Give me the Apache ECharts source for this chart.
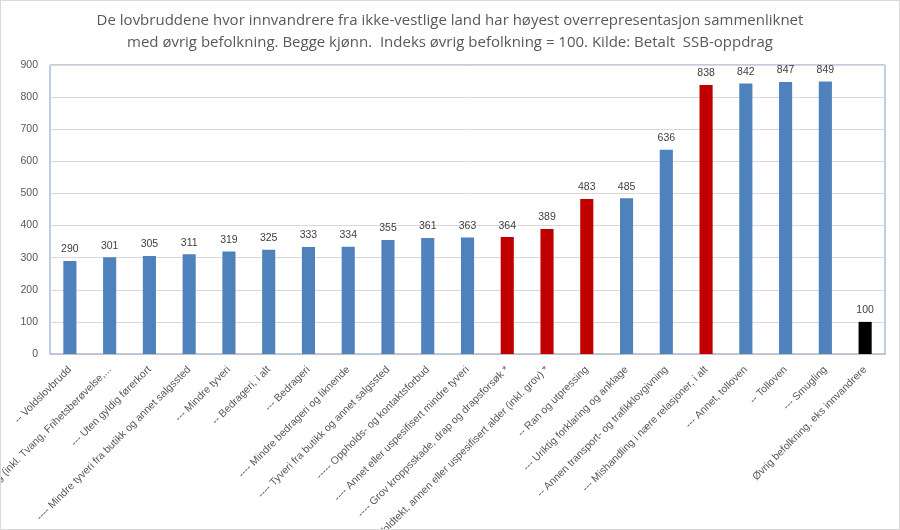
<!DOCTYPE html>
<html>
<head>
<meta charset="utf-8">
<script src="https://cdn.jsdelivr.net/npm/echarts@6/dist/echarts.min.js"></script>
<style>
  html, body { margin: 0; padding: 0; background: #fff; }
  #chart { width: 900px; height: 530px; box-sizing: border-box; border: 1px solid #d9d9d9; }
</style>
</head>
<body>
<div id="chart"></div>
<script>
'use strict';

var categories = [
  '-- Voldslovbrudd',
  '--- Annet, øvrig (inkl. Tvang, Frihetsberøvelse,...',
  '--- Uten gyldig førerkort',
  '---- Mindre tyveri fra butikk og annet salgssted',
  '--- Mindre tyveri',
  '-- Bedrageri, i alt',
  '--- Bedrageri',
  '---- Mindre bedrageri og liknende',
  '---- Tyveri fra butikk og annet salgssted',
  '----- Oppholds- og kontaktsforbud',
  '---- Annet eller uspesifisert mindre tyveri',
  '---- Grov kroppsskade, drap og drapsforsøk *',
  '--- Voldtekt, annen eller uspesifisert alder (inkl. grov) *',
  '-- Ran og utpressing',
  '--- Uriktig forklaring og anklage',
  '-- Annen transport- og trafikklovgivning',
  '--- Mishandling i nære relasjoner, i alt',
  '--- Annet, tolloven',
  '-- Tolloven',
  '--- Smugling',
  'Øvrig befolkning, eks innvandrere'
];

var indexValues = [290, 301, 305, 311, 319, 325, 333, 334, 355, 361, 363, 364, 389, 483, 485, 636, 838, 842, 847, 849, 100];

// gruppe: 0 = vanlig, 1 = markert, 2 = referanse
var groups = [0, 0, 0, 0, 0, 0, 0, 0, 0, 0, 0, 1, 1, 1, 0, 0, 1, 0, 0, 0, 2];

var yTicks = [0, 100, 200, 300, 400, 500, 600, 700, 800, 900];

var groupColors = ['#4f81bd', '#c00000', '#000000'];
var textColor = '#595959';
var fontFamily = '"Open Sans", sans-serif';
var narrowFont = '"Liberation Sans", Arial, sans-serif';

var chart = echarts.init(document.getElementById('chart'));

var option = {
  animation: false,
  title: {
    text: 'De lovbruddene hvor innvandrere fra ikke-vestlige land har høyest overrepresentasjon sammenliknet\nmed øvrig befolkning. Begge kjønn.  Indeks øvrig befolkning = 100. Kilde: Betalt  SSB-oppdrag',
    left: 'center',
    top: 4,
    textStyle: {
      color: textColor,
      fontSize: 15,
      fontWeight: 'normal',
      fontFamily: fontFamily,
      lineHeight: 22
    }
  },
  grid: {
    left: 49,
    right: 14,
    top: 64,
    bottom: 175,
    outerBoundsMode: 'none',
    containLabel: false,
    show: true,
    borderColor: '#7f9bc4',
    borderWidth: 1
  },
  xAxis: {
    type: 'category',
    data: categories,
    axisTick: { show: false },
    axisLine: { lineStyle: { color: '#bfbfbf' } },
    axisLabel: {
      rotate: 45,
      interval: 0,
      color: textColor,
      fontSize: 10.5,
      fontFamily: narrowFont,
      margin: 14
    }
  },
  yAxis: {
    type: 'value',
    min: yTicks[0],
    max: yTicks[yTicks.length - 1],
    interval: 100,
    axisLine: { show: false },
    axisTick: { show: false },
    axisLabel: {
      color: textColor,
      fontSize: 10.5,
      fontFamily: narrowFont,
      margin: 12
    },
    splitLine: { lineStyle: { color: '#d9d9d9' } }
  },
  series: [{
    type: 'bar',
    data: indexValues,
    barWidth: '33%',
    itemStyle: {
      color: function (p) {
        return groupColors[groups[p.dataIndex]];
      }
    },
    label: {
      show: true,
      position: 'top',
      distance: 6,
      color: '#404040',
      fontSize: 10.5,
      fontFamily: narrowFont
    }
  }]
};

chart.setOption(option);
</script>
</body>
</html>
